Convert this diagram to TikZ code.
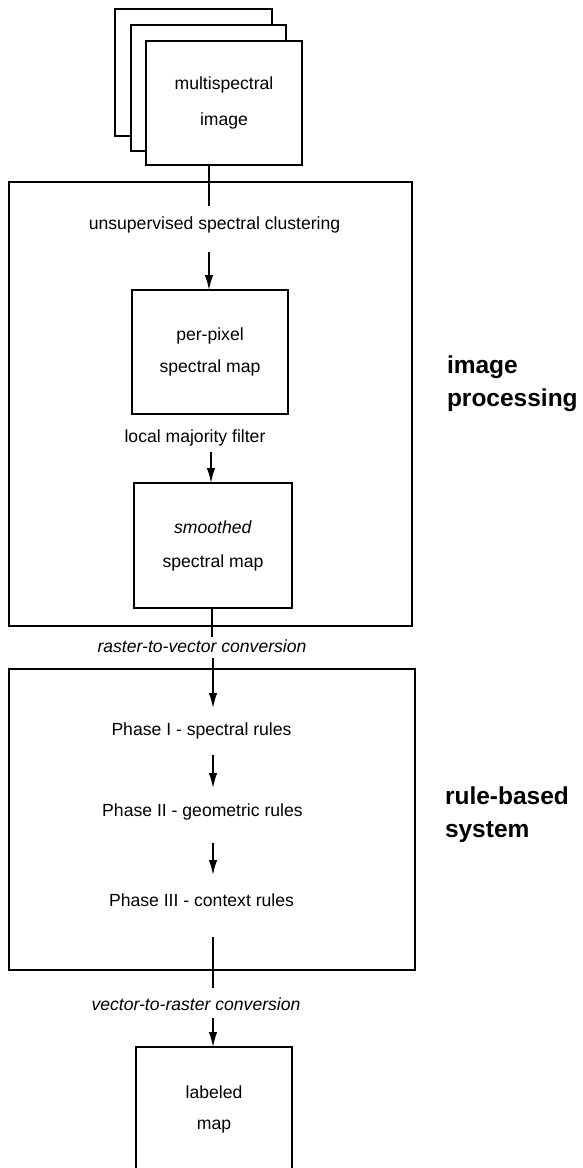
\documentclass[tikz,border=0pt]{standalone}
\usepackage{fontspec}
\setmainfont{Liberation Sans}
\usetikzlibrary{arrows.meta}
\begin{document}
\begin{tikzpicture}[x=1pt,y=-1pt,
  every node/.style={inner sep=0pt, outer sep=0pt},
  label/.style={font=\fontsize{17.6}{21}\selectfont, text height=12.8pt, text depth=3.7pt},
  conv/.style={label, font=\fontsize{17.6}{21}\selectfont\itshape},
  stage/.style={draw, line width=1.4pt, fill=white, align=center},
  frame/.style={draw, line width=2.6pt},
  link/.style={line width=1.4pt},
  arr/.style={link, -{Latex[length=15pt,width=8.5pt]}},
  group/.style={font=\fontsize{24.5}{33}\selectfont\bfseries, align=left, anchor=west},
]
\clip (0,0) rectangle (583,1168);
\useasboundingbox (0,0) rectangle (583,1168);

% connector columns
\coordinate (colA) at (209,0);
\coordinate (colB) at (211,0);
\coordinate (colC) at (212,0);
\coordinate (colD) at (213,0);

% stack of image bands
\node[stage, minimum width=157pt, minimum height=127pt] (band3) at (193.5,72.5) {};
\node[stage, minimum width=155pt, minimum height=126pt] (band2) at (208.5,88) {};
\node[stage, minimum width=156pt, minimum height=124pt,
      font=\fontsize{17.6}{36}\selectfont] (img) at (224,103) {multispectral\\image};

% image processing block
\node[frame, minimum width=403pt, minimum height=444pt] (ipbox) at (210.5,404) {};
\node[label] (clust) at (214.5,225) {unsupervised spectral clustering};
\node[stage, minimum width=156pt, minimum height=124pt,
      font=\fontsize{17.6}{32}\selectfont] (pix) at (210,352) {per-pixel\\spectral map};
\node[label] (lmf) at (195,438) {local majority filter};
\node[stage, minimum width=158pt, minimum height=125pt,
      font=\fontsize{17.6}{34}\selectfont] (smo) at (213,545.5) {\textit{smoothed}\\spectral map};

\node[conv] (r2v) at (202,648) {raster-to-vector conversion};

% rule-based block
\node[frame, minimum width=406pt, minimum height=301pt] (rbbox) at (212,819.5) {};
\node[label] (p1) at (201.5,731) {Phase I - spectral rules};
\node[label] (p2) at (202.5,812) {Phase II - geometric rules};
\node[label] (p3) at (201.5,902) {Phase III - context rules};

\node[conv] (v2r) at (196,1006) {vector-to-raster conversion};
\node[stage, minimum width=156pt, minimum height=124pt,
      font=\fontsize{17.6}{31}\selectfont] (lab) at (214,1109) {labeled\\map};

% side captions
\node[group] (gip) at (447,383.5) {image\\processing};
\node[group] (grb) at (445,814.6) {rule-based\\system};

% connectors
\draw[link] (img.south -| colA) -- ([yshift=10.75pt]clust.north -| colA);
\draw[arr] ([yshift=-18.75pt]clust.south -| colA) -- (pix.north -| colA);
\draw[arr] ([yshift=-5.75pt]lmf.south -| colB) -- (smo.north -| colB);
\draw[link] (smo.south -| colC) -- ([yshift=2.75pt]r2v.north -| colC);
\draw[arr] ([yshift=-1.75pt]r2v.south -| colD) -- ([yshift=14.75pt]p1.north -| colD);
\draw[arr] ([yshift=-15.75pt]p1.south -| colD) -- ([yshift=15.75pt]p2.north -| colD);
\draw[arr] ([yshift=-22.75pt]p2.south -| colD) -- ([yshift=18.75pt]p3.north -| colD);
\draw[link] ([yshift=-26.75pt]p3.south -| colD) -- ([yshift=9.75pt]v2r.north -| colD);
\draw[arr] ([yshift=-3.75pt]v2r.south -| colD) -- (lab.north -| colD);
\end{tikzpicture}
\end{document}
